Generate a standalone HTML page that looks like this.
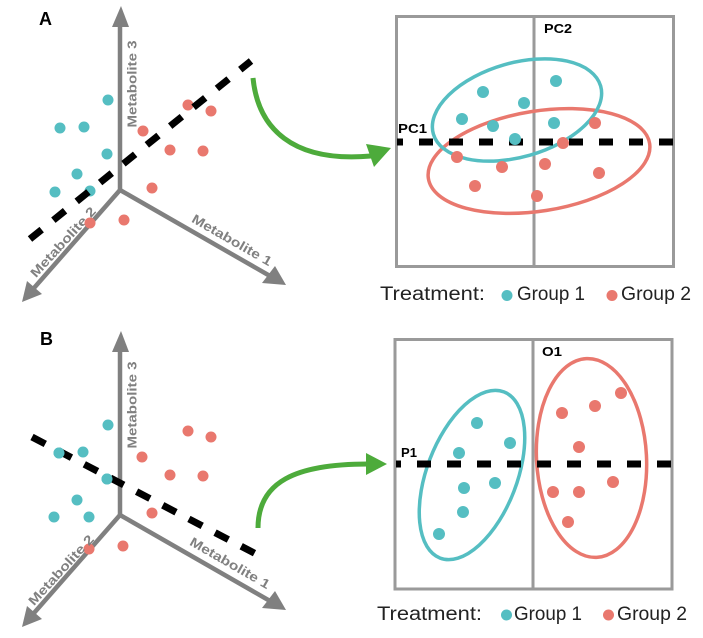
<!DOCTYPE html>
<html><head><meta charset="utf-8"><style>
html,body{margin:0;padding:0;background:#fff;}
svg{display:block;}
text{font-family:"Liberation Sans",sans-serif;}
</style></head><body>
<svg width="703" height="638" viewBox="0 0 703 638" xmlns="http://www.w3.org/2000/svg">
<rect width="703" height="638" fill="#fff"/>

<!-- ===== Panel A left ===== -->
<text x="39" y="25" font-size="18" font-weight="bold" fill="#000">A</text>
<g stroke="#808080" stroke-width="4.5" fill="none">
  <line x1="120" y1="191" x2="120" y2="25"/>
  <line x1="120" y1="190" x2="270" y2="276"/>
  <line x1="120" y1="190" x2="34" y2="288"/>
</g>
<g fill="#808080">
  <polygon points="112,27 129,27 121,6"/>
  <polygon points="262,283 275,266 286,285"/>
  <polygon points="42,294 27,281 22,302"/>
</g>
<g font-size="13" font-weight="bold" fill="#808080" text-anchor="middle" dominant-baseline="central">
  <text transform="translate(132,84) rotate(-90)" textLength="87" lengthAdjust="spacingAndGlyphs">Metabolite 3</text>
  <text transform="translate(232,240) rotate(29.8)" textLength="90" lengthAdjust="spacingAndGlyphs">Metabolite 1</text>
  <text transform="translate(63,242) rotate(-47.6)" textLength="90" lengthAdjust="spacingAndGlyphs">Metabolite 2</text>
</g>
<g fill="#55bec2">
  <circle cx="108" cy="100" r="5.5"/><circle cx="60" cy="128" r="5.5"/><circle cx="84" cy="127" r="5.5"/>
  <circle cx="107" cy="154" r="5.5"/><circle cx="77" cy="174" r="5.5"/><circle cx="55" cy="192" r="5.5"/>
  <circle cx="90" cy="191" r="5.5"/>
</g>
<g fill="#e9786e">
  <circle cx="188" cy="105" r="5.5"/><circle cx="211" cy="111" r="5.5"/><circle cx="143" cy="131" r="5.5"/>
  <circle cx="170" cy="150" r="5.5"/><circle cx="203" cy="151" r="5.5"/><circle cx="152" cy="188" r="5.5"/>
  <circle cx="90" cy="223" r="5.5"/><circle cx="124" cy="220" r="5.5"/>
</g>
<line x1="30" y1="239" x2="251" y2="61" stroke="#000" stroke-width="7" stroke-dasharray="15 15"/>

<!-- green arrow A -->
<path d="M253,78 C258,128 292,163 371,156" stroke="#4dab3b" stroke-width="5" fill="none"/>
<polygon points="366,144 374,167 391,148" fill="#4dab3b"/>

<!-- ===== Panel A right ===== -->
<rect x="396.5" y="16.5" width="277" height="250" fill="none" stroke="#9a9a9a" stroke-width="3"/>
<line x1="534" y1="16" x2="534" y2="267" stroke="#9a9a9a" stroke-width="3"/>
<text x="544" y="33" font-size="13" font-weight="bold" fill="#000" textLength="28" lengthAdjust="spacingAndGlyphs">PC2</text>
<text x="398" y="133" font-size="13" font-weight="bold" fill="#000" textLength="29" lengthAdjust="spacingAndGlyphs">PC1</text>
<ellipse cx="539" cy="161" rx="112" ry="50" transform="rotate(-9 539 161)" fill="none" stroke="#e9786e" stroke-width="3.5"/>
<ellipse cx="517" cy="110" rx="87" ry="47" transform="rotate(-16 517 110)" fill="none" stroke="#55bec2" stroke-width="3.5"/>
<line x1="397" y1="142" x2="673" y2="142" stroke="#000" stroke-width="7" stroke-dasharray="14 16" stroke-dashoffset="8"/>
<g fill="#55bec2">
  <circle cx="556" cy="81" r="6"/><circle cx="483" cy="92" r="6"/><circle cx="524" cy="103" r="6"/>
  <circle cx="462" cy="119" r="6"/><circle cx="493" cy="126" r="6"/><circle cx="554" cy="123" r="6"/>
  <circle cx="515" cy="139" r="6"/>
</g>
<g fill="#e9786e">
  <circle cx="595" cy="123" r="6"/><circle cx="563" cy="143" r="6"/><circle cx="457" cy="157" r="6"/>
  <circle cx="502" cy="167" r="6"/><circle cx="545" cy="164" r="6"/><circle cx="599" cy="173" r="6"/>
  <circle cx="475" cy="186" r="6"/><circle cx="537" cy="196" r="6"/>
</g>
<!-- legend A -->
<g font-size="19" fill="#222">
  <text x="380" y="300" textLength="105" lengthAdjust="spacingAndGlyphs">Treatment:</text>
  <circle cx="507" cy="295.5" r="5.5" fill="#55bec2"/>
  <text x="517" y="300" textLength="68" lengthAdjust="spacingAndGlyphs">Group 1</text>
  <circle cx="612" cy="295.5" r="5.5" fill="#e9786e"/>
  <text x="621" y="300" textLength="70" lengthAdjust="spacingAndGlyphs">Group 2</text>
</g>

<!-- ===== Panel B left ===== -->
<text x="40" y="345" font-size="18" font-weight="bold" fill="#000">B</text>
<g stroke="#808080" stroke-width="4.5" fill="none">
  <line x1="120" y1="516" x2="120" y2="350"/>
  <line x1="120" y1="515" x2="270" y2="601"/>
  <line x1="120" y1="515" x2="34" y2="613"/>
</g>
<g fill="#808080">
  <polygon points="112,352 129,352 121,331"/>
  <polygon points="262,608 275,591 286,610"/>
  <polygon points="42,619 27,606 22,627"/>
</g>
<g fill="#55bec2">
  <circle cx="108" cy="425" r="5.5"/><circle cx="59" cy="453" r="5.5"/><circle cx="83" cy="452" r="5.5"/>
  <circle cx="107" cy="479" r="5.5"/><circle cx="77" cy="500" r="5.5"/><circle cx="54" cy="517" r="5.5"/>
  <circle cx="89" cy="517" r="5.5"/>
</g>
<g fill="#e9786e">
  <circle cx="188" cy="431" r="5.5"/><circle cx="211" cy="437" r="5.5"/><circle cx="142" cy="457" r="5.5"/>
  <circle cx="170" cy="475" r="5.5"/><circle cx="203" cy="476" r="5.5"/><circle cx="152" cy="513" r="5.5"/>
  <circle cx="89" cy="549" r="5.5"/><circle cx="123" cy="546" r="5.5"/>
</g>
<line x1="32" y1="437" x2="256" y2="554" stroke="#000" stroke-width="7" stroke-dasharray="15 14.5"/>
<g fill="#55bec2">
  <circle cx="59" cy="453" r="5.5"/><circle cx="107" cy="479" r="5.5"/>
</g>
<g font-size="13" font-weight="bold" fill="#808080" text-anchor="middle" dominant-baseline="central">
  <text transform="translate(132,405) rotate(-90)" textLength="87" lengthAdjust="spacingAndGlyphs">Metabolite 3</text>
  <text transform="translate(230,563) rotate(29.8)" textLength="90" lengthAdjust="spacingAndGlyphs">Metabolite 1</text>
  <text transform="translate(61,570) rotate(-47.6)" textLength="90" lengthAdjust="spacingAndGlyphs">Metabolite 2</text>
</g>

<!-- green arrow B -->
<path d="M258,528 C258,482 295,464 368,464" stroke="#4dab3b" stroke-width="5" fill="none"/>
<polygon points="366,453 366,475 387,464" fill="#4dab3b"/>

<!-- ===== Panel B right ===== -->
<rect x="395" y="339.5" width="277" height="249.5" fill="none" stroke="#9a9a9a" stroke-width="3"/>
<line x1="533" y1="339" x2="533" y2="589" stroke="#9a9a9a" stroke-width="3"/>
<text x="542" y="356" font-size="13" font-weight="bold" fill="#000" textLength="20" lengthAdjust="spacingAndGlyphs">O1</text>
<text x="401" y="457" font-size="13" font-weight="bold" fill="#000" textLength="16" lengthAdjust="spacingAndGlyphs">P1</text>
<ellipse cx="472" cy="475" rx="45" ry="89" transform="rotate(21 472 475)" fill="none" stroke="#55bec2" stroke-width="3.5"/>
<ellipse cx="591.5" cy="458" rx="55" ry="99.5" transform="rotate(-3 591.5 458)" fill="none" stroke="#e9786e" stroke-width="3.5"/>
<line x1="396" y1="464" x2="672" y2="464" stroke="#000" stroke-width="7" stroke-dasharray="14 16" stroke-dashoffset="9"/>
<g fill="#55bec2">
  <circle cx="477" cy="423" r="6"/><circle cx="510" cy="443" r="6"/><circle cx="459" cy="453" r="6"/>
  <circle cx="464" cy="488" r="6"/><circle cx="495" cy="483" r="6"/><circle cx="463" cy="512" r="6"/>
  <circle cx="439" cy="534" r="6"/>
</g>
<g fill="#e9786e">
  <circle cx="621" cy="393" r="6"/><circle cx="595" cy="406" r="6"/><circle cx="562" cy="413" r="6"/>
  <circle cx="579" cy="447" r="6"/><circle cx="613" cy="482" r="6"/><circle cx="553" cy="492" r="6"/>
  <circle cx="579" cy="492" r="6"/><circle cx="568" cy="522" r="6"/>
</g>
<!-- legend B -->
<g font-size="19" fill="#222">
  <text x="377" y="620" textLength="105" lengthAdjust="spacingAndGlyphs">Treatment:</text>
  <circle cx="506.5" cy="615" r="5.5" fill="#55bec2"/>
  <text x="514" y="620" textLength="68" lengthAdjust="spacingAndGlyphs">Group 1</text>
  <circle cx="608.5" cy="615" r="5.5" fill="#e9786e"/>
  <text x="617" y="620" textLength="70" lengthAdjust="spacingAndGlyphs">Group 2</text>
</g>
</svg>
</body></html>
